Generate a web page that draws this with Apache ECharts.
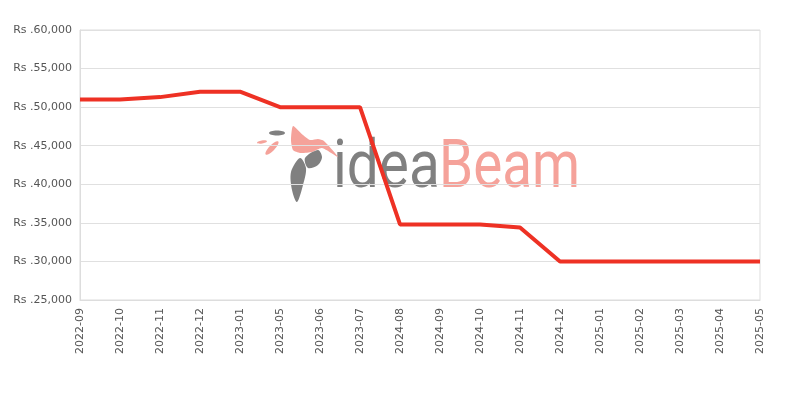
<!DOCTYPE html>
<html><head><meta charset="utf-8">
<script src="https://cdn.jsdelivr.net/npm/echarts@6/dist/echarts.min.js"></script>
<style>html,body{margin:0;padding:0;background:#fff}#c{width:800px;height:400px}</style>
</head><body><div id="c"></div>
<script>
var categories = ['2022-09','2022-10','2022-11','2022-12','2023-01','2023-05','2023-06','2023-07','2024-08','2024-09','2024-10','2024-11','2024-12','2025-01','2025-02','2025-03','2025-04','2025-05'];
var prices = [51000,51000,51300,52000,52000,50000,50000,50000,34800,34800,34800,34400,30000,30000,30000,30000,30000,30000];
var yTicks = {min:25000, max:60000, interval:5000};

var GREY = '#808080', SALMON = '#f5a29a';
var chart = echarts.init(document.getElementById('c'));
chart.setOption({
  animation:false,
  grid:{left:80, right:40, top:30, bottom:100, show:true, borderColor:'#ddd', borderWidth:1},
  graphic:[
    {type:'text', x:333, y:137, scaleX:0.86, originX:0, originY:0, z:-10, silent:true,
      style:{x:0, y:0, text:'idea', font:'400 66px Roboto, sans-serif', fill:GREY, textAlign:'left'}},
    {type:'text', x:439, y:137, scaleX:0.83, originX:0, originY:0, z:-10, silent:true,
      style:{x:0, y:0, text:'Beam', font:'400 66px Roboto, sans-serif', fill:SALMON, textAlign:'left'}},
    {type:'ellipse', z:-10, shape:{cx:277, cy:133, rx:8, ry:2.5}, style:{fill:GREY}},
    {type:'ellipse', z:-10, shape:{cx:262, cy:142, rx:5, ry:1.5}, rotation:0.15, originX:262, originY:142, style:{fill:SALMON}},
    {type:'ellipse', z:-10, shape:{cx:272, cy:148, rx:9, ry:2.8}, rotation:0.8, originX:272, originY:148, style:{fill:SALMON}},
    {type:'polygon', z:-10, shape:{points:[[293,126],[303,135],[310,140],[318,139],[324,141],[338,157],[322,148],[312,152],[300,153],[293,150],[291,140]], smooth:0.2}, style:{fill:SALMON}},
    {type:'polygon', z:-10, shape:{points:[[305,158],[318,150],[322,157],[318,165],[308,168]], smooth:0.3}, style:{fill:GREY}},
    {type:'polygon', z:-10, shape:{points:[[300,158],[306,168],[303,185],[297,202],[292,190],[291,172]], smooth:0.3}, style:{fill:GREY}}
  ],
  xAxis:{type:'category', data:categories, boundaryGap:false,
    axisLine:{show:true, lineStyle:{color:'#ddd'}}, axisTick:{show:false},
    axisLabel:{rotate:90, color:'#555', fontSize:11, fontFamily:'DejaVu Sans', interval:0, margin:8},
    splitLine:{show:false}},
  yAxis:{type:'value', min:yTicks.min, max:yTicks.max, interval:yTicks.interval,
    axisLine:{show:true, lineStyle:{color:'#ddd'}}, axisTick:{show:false},
    axisLabel:{color:'#555', fontSize:11, fontFamily:'DejaVu Sans', margin:8,
      formatter:function(v){return 'Rs .' + v.toLocaleString('en-US');}},
    splitLine:{show:true, lineStyle:{color:'#e0e0e0'}}},
  series:[{type:'line', data:prices, showSymbol:false, z:5,
    lineStyle:{color:'#ee3124', width:4}, itemStyle:{color:'#ee3124'}}]
});
</script></body></html>
